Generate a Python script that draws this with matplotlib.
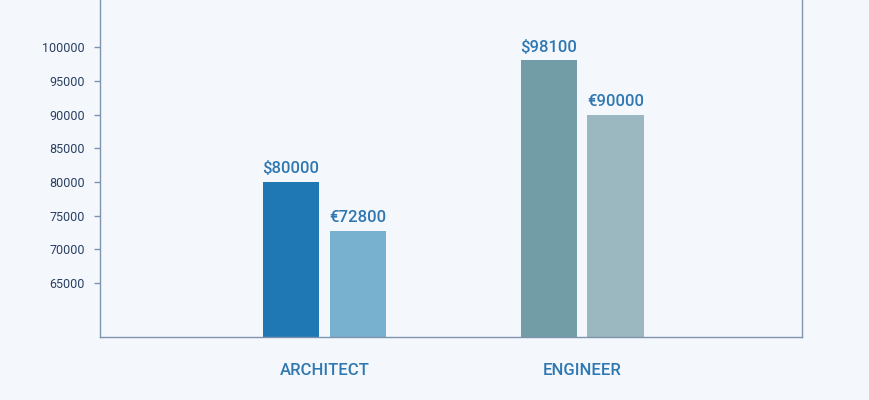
import matplotlib
matplotlib.use("Agg")
import matplotlib.pyplot as plt
import numpy as np

categories = ["ARCHITECT", "ENGINEER"]
usd_values = [80000, 98100]
eur_values = [72800, 90000]
usd_labels = ["$80000", "$98100"]
eur_labels = ["€72800", "€90000"]
y_ticks = [65000, 70000, 75000, 80000, 85000, 90000, 95000, 100000]

usd_colors = ["#1f77b4", "#729ca6"]
eur_colors = ["#78b0d0", "#9bb7bf"]
bg = "#f4f8fd"
spine_c = "#7f93ad"
tick_c = "#2a3f62"
label_c = "#2f77b0"

plt.rcParams['font.family'] = ['Roboto', 'DejaVu Sans']

fig = plt.figure(figsize=(8.7, 4.0), dpi=100, facecolor=bg)
ax = fig.add_axes([100/870, 63/400, 702/870, 347/400])
ax.set_facecolor(bg)

x = np.arange(len(categories))
w = 0.218
off = 0.13
b1 = ax.bar(x - off, usd_values, width=w, color=usd_colors)
b2 = ax.bar(x + off, eur_values, width=w, color=eur_colors)
ax.bar_label(b1, labels=usd_labels, padding=4, color=label_c, fontsize=12, fontweight='medium')
ax.bar_label(b2, labels=eur_labels, padding=4, color=label_c, fontsize=12, fontweight='medium')

ax.set_xlim(-0.872, 1.854)
ax.set_ylim(57000, 108500)
ax.set_yticks(y_ticks)
ax.set_yticklabels([str(v) for v in y_ticks])
ax.tick_params(axis='y', length=4, width=1, color=spine_c, labelcolor=tick_c, labelsize=9, pad=7)
ax.set_xticks(x)
ax.set_xticklabels(categories)
ax.tick_params(axis='x', length=0, labelcolor=label_c, labelsize=12, pad=19)
for lab in ax.get_xticklabels():
    lab.set_fontweight('medium')

for s in ['left', 'right', 'bottom', 'top']:
    ax.spines[s].set_color(spine_c)
    ax.spines[s].set_linewidth(1)

fig.savefig("out.png", dpi=100, facecolor=bg)
